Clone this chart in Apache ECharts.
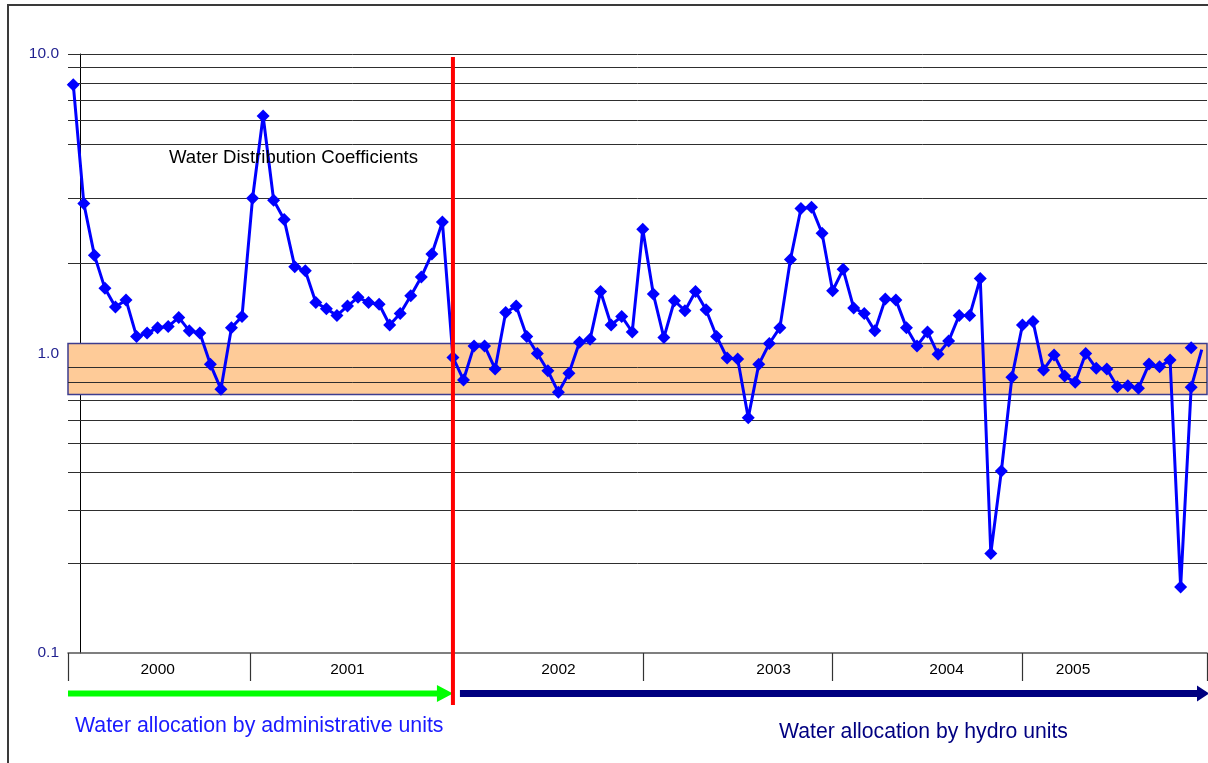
<!DOCTYPE html>
<html>
<head>
<meta charset="utf-8">
<script src="https://cdn.jsdelivr.net/npm/echarts@6/dist/echarts.min.js"></script>
<style>
  html, body { margin: 0; padding: 0; background: #ffffff; }
  #chart { width: 1208px; height: 763px; }
</style>
</head>
<body>
<div id="chart"></div>
<script>
// ---- data ----
const periodCount = 108;
const periods = Array.from({ length: periodCount }, (_, i) => 'P' + (i + 1));

const coefficients = [
  7.9, 3.17, 2.13, 1.65, 1.43, 1.51, 1.14, 1.17, 1.22, 1.23,
  1.32, 1.19, 1.17, 0.92, 0.76, 1.22, 1.33, 3.30, 6.21, 3.25,
  2.80, 1.95, 1.89, 1.48, 1.41, 1.34, 1.44, 1.54, 1.48, 1.46,
  1.245, 1.36, 1.56, 1.80, 2.15, 2.75, 0.97, 0.816, 1.06, 1.06,
  0.888, 1.37, 1.44, 1.14, 1.00, 0.876, 0.742, 0.859, 1.09, 1.115,
  1.61, 1.245, 1.33, 1.18, 2.60, 1.58, 1.13, 1.50, 1.39, 1.61,
  1.40, 1.14, 0.966, 0.958, 0.610, 0.92, 1.08, 1.22, 2.06, 3.05,
  3.08, 2.52, 1.62, 1.91, 1.42, 1.36, 1.19, 1.52, 1.51, 1.22,
  1.06, 1.18, 0.994, 1.10, 1.34, 1.34, 1.78, 0.215, 0.405, 0.833,
  1.245, 1.28, 0.881, 0.989, 0.841, 0.801, 1.00, 0.892, 0.888, 0.775,
  0.781, 0.765, 0.922, 0.903, 0.951, 0.166, 0.771, 1.03
];
const noMarkerIndex = [107];

const extraPointIndex = [106];
const extraPointValue = [1.045];

const bandRange = [0.73, 1.08];
const gridValues = [10, 9, 8, 7, 6, 5, 3.3, 2, 0.9, 0.8, 0.7, 0.6, 0.5, 0.4, 0.3, 0.2];

const yearLabels = ['2000', '2001', '2002', '2003', '2004', '2005'];
const yearLabelPos = [8, 26, 46, 66.4, 82.8, 94.8];
const yearTickPos = [-0.5, 16.75, 36, 54, 72, 90, 107.5];

const changeIndex = 36;

const titleText = 'Water Distribution Coefficients';
const adminText = 'Water allocation by administrative units';
const hydroText = 'Water allocation by hydro units';

// ---- chart ----
const FONT = '"Liberation Sans", Arial, sans-serif';
const chart = echarts.init(document.getElementById('chart'), null, { renderer: 'canvas' });

const lineData = coefficients.map((v, i) =>
  noMarkerIndex.includes(i) ? { value: v, symbol: 'none' } : v);

const option = {
  animation: false,
  backgroundColor: '#ffffff',
  title: {
    text: titleText,
    left: 164, top: 143,
    textStyle: { fontFamily: FONT, fontSize: 18.6, fontWeight: 'normal', color: '#000000' }
  },
  grid: { left: 68, top: 54, width: 1139, height: 599 },
  xAxis: [
    {
      type: 'category', data: periods, boundaryGap: true, show: false
    },
    {
      type: 'value', min: -0.5, max: 107.5, position: 'bottom',
      axisLine: { show: true, lineStyle: { color: '#555555', width: 1.5 } },
      axisTick: { show: true, customValues: yearTickPos, length: 28, lineStyle: { color: '#333333', width: 1.2 } },
      axisLabel: {
        show: true, customValues: yearLabelPos, margin: 9,
        fontFamily: FONT, fontSize: 15.5, color: '#000000',
        formatter: function (v) {
          let best = 0;
          for (let i = 0; i < yearLabelPos.length; i++) {
            if (Math.abs(yearLabelPos[i] - v) < Math.abs(yearLabelPos[best] - v)) best = i;
          }
          return yearLabels[best];
        }
      },
      splitLine: { show: false }
    }
  ],
  yAxis: {
    type: 'log', logBase: 10, min: 0.1, max: 10,
    offset: -12,
    axisLine: { show: true, lineStyle: { color: '#000000', width: 1 } },
    axisTick: { show: false },
    splitLine: { show: false },
    minorSplitLine: { show: false },
    axisLabel: {
      margin: 21, fontFamily: FONT, fontSize: 15.5, color: '#1f1f8f',
      formatter: function (v) { return Number(v).toFixed(1); }
    }
  },
  series: [
    {
      name: 'band', type: 'line', data: [], z: 1, silent: true,
      markArea: {
        silent: true,
        itemStyle: { color: '#FECB98', borderColor: '#3d3d8f', borderWidth: 1.5 },
        data: [[{ yAxis: bandRange[0] }, { yAxis: bandRange[1] }]]
      }
    },
    {
      name: 'grid', type: 'line', data: [], z: 2, silent: true,
      markLine: {
        silent: true, symbol: ['none', 'none'],
        label: { show: false },
        lineStyle: { color: '#2e2e2e', width: 1, type: 'solid' },
        data: gridValues.map(v => ({ yAxis: v }))
      }
    },
    {
      name: 'Coefficient', type: 'line', data: lineData, z: 5,
      symbol: 'diamond', symbolSize: 13, showAllSymbol: true,
      lineStyle: { color: '#0000ff', width: 3 },
      itemStyle: { color: '#0000ff', opacity: 1 }
    },
    {
      name: 'Extra', type: 'scatter', z: 6,
      data: extraPointIndex.map((idx, i) => [idx, extraPointValue[i]]),
      symbol: 'diamond', symbolSize: 13,
      itemStyle: { color: '#0000ff', opacity: 1 }
    }
  ]
};
chart.setOption(option);

// ---- annotations positioned via the library's scales ----
const xLeft = chart.convertToPixel({ xAxisIndex: 1 }, -0.5);
const xRight = chart.convertToPixel({ xAxisIndex: 1 }, 107.5);
const xChange = chart.convertToPixel({ xAxisIndex: 1 }, changeIndex);
const yTop = chart.convertToPixel({ yAxisIndex: 0 }, 10);
const yBottom = chart.convertToPixel({ yAxisIndex: 0 }, 0.1);
const arrowY = yBottom + 40.5;

function arrow(x0, x1, y, half, headLen, headHalf, color) {
  return {
    type: 'polygon', z: 50, silent: true,
    shape: { points: [
      [x0, y - half], [x1 - headLen, y - half], [x1 - headLen, y - headHalf],
      [x1, y], [x1 - headLen, y + headHalf], [x1 - headLen, y + half], [x0, y + half]
    ] },
    style: { fill: color }
  };
}

chart.setOption({
  graphic: [
    {
      type: 'rect', silent: true, z: 0,
      shape: { x: 8, y: 5, width: 1400, height: 1000 },
      style: { fill: 'none', stroke: '#3a3a3a', lineWidth: 2 }
    },
    {
      type: 'line', silent: true, z: 60,
      shape: { x1: xChange, y1: yTop + 3, x2: xChange, y2: yBottom + 52 },
      style: { stroke: '#ff0000', lineWidth: 4 }
    },
    arrow(xLeft, xChange, arrowY, 3, 16, 8.5, '#00ff00'),
    arrow(xChange + 7, xRight + 2, arrowY, 3.5, 12, 8, '#000080'),
    {
      type: 'text', silent: true, z: 50,
      x: 75, y: 726,
      style: { text: adminText, fontFamily: FONT, fontSize: 21.3, fill: '#1a1aff', textVerticalAlign: 'middle' }
    },
    {
      type: 'text', silent: true, z: 50,
      x: 779, y: 732,
      style: { text: hydroText, fontFamily: FONT, fontSize: 21.2, fill: '#000080', textVerticalAlign: 'middle' }
    }
  ]
});
</script>
</body>
</html>
